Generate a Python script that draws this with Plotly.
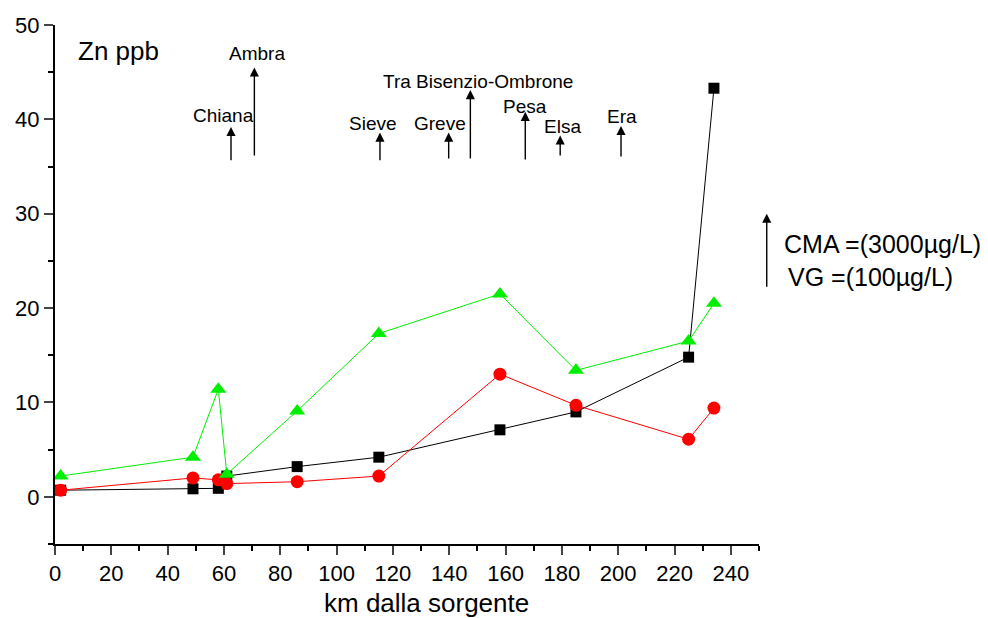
import plotly.graph_objects as go

# ---- data ----
km = [2, 49, 58, 61, 86, 115, 158, 185, 225, 234]
zn_black = [0.7, 0.85, 0.9, 2.2, 3.2, 4.2, 7.1, 9.0, 14.8, 43.3]
zn_red = [0.7, 2.0, 1.8, 1.4, 1.6, 2.2, 13.0, 9.7, 6.1, 9.4]
zn_green = [2.2, 4.2, 11.4, 2.4, 9.1, 17.3, 21.5, 13.4, 16.5, 20.5]

rivers = ["Chiana", "Ambra", "Sieve", "Greve", "Tra Bisenzio-Ombrone", "Pesa", "Elsa", "Era"]
river_km = [62.5, 70.8, 115.4, 139.8, 147.5, 167.0, 179.4, 201.0]

x_ticks = [0, 20, 40, 60, 80, 100, 120, 140, 160, 180, 200, 220, 240]
y_ticks = [0, 10, 20, 30, 40, 50]

FONT = "Arial, Liberation Sans, sans-serif"

fig = go.Figure()
fig.add_trace(go.Scatter(x=km, y=zn_black, mode="lines+markers",
                         line=dict(color="black", width=1),
                         marker=dict(symbol="square", size=11, color="black"),
                         cliponaxis=False, showlegend=False))
fig.add_trace(go.Scatter(x=km, y=zn_red, mode="lines+markers",
                         line=dict(color="red", width=1),
                         marker=dict(symbol="circle", size=13, color="red"),
                         cliponaxis=False, showlegend=False))
fig.add_trace(go.Scatter(x=km, y=zn_green, mode="lines+markers",
                         line=dict(color="#00ee00", width=1),
                         marker=dict(symbol="triangle-up", size=14, color="#00ee00"),
                         cliponaxis=False, showlegend=False))

# river arrows (tail y, tip y) and label positions
arrow_tail = [35.5, 36.0, 35.5, 35.7, 35.7, 35.6, 36.0, 35.9]
arrow_tip = [39.2, 45.5, 38.6, 38.6, 43.1, 40.8, 38.3, 39.3]
label_x = [59.8, 71.8, 113.0, 136.6, 150.2, 167.0, 180.2, 201.2]
label_y = [40.4, 47.0, 39.6, 39.6, 44.0, 41.4, 39.2, 40.3]

annotations = []
for name, xk, t0, t1, lx, ly in zip(rivers, river_km, arrow_tail, arrow_tip, label_x, label_y):
    annotations.append(dict(x=xk, y=t1, ax=xk, ay=t0, xref="x", yref="y", axref="x", ayref="y",
                            text="", showarrow=True, arrowhead=2, arrowsize=1.3, arrowwidth=1.4,
                            arrowcolor="black"))
    annotations.append(dict(x=lx, y=ly, xref="x", yref="y", text=name, showarrow=False,
                            font=dict(family=FONT, size=19, color="black")))

annotations.append(dict(x=22.4, y=47.2, xref="x", yref="y", text="Zn ppb", showarrow=False,
                        font=dict(family=FONT, size=26, color="black")))
# CMA / VG legend arrow
annotations.append(dict(x=1.011, y=30.0, xref="paper", yref="y", ax=0, ay=22.1,
                        axref="pixel", ayref="y", text="", showarrow=True, arrowhead=2,
                        arrowsize=1.3, arrowwidth=1.4, arrowcolor="black"))
annotations.append(dict(x=1.032, y=26.8, xref="paper", yref="y", xanchor="left",
                        text="CMA =(3000\u00b5g/L)", showarrow=False,
                        font=dict(family=FONT, size=25, color="black")))
annotations.append(dict(x=1.038, y=23.3, xref="paper", yref="y", xanchor="left",
                        text="VG =(100\u00b5g/L)", showarrow=False,
                        font=dict(family=FONT, size=25, color="black")))
annotations.append(dict(x=0.527, y=-0.114, xref="paper", yref="paper", yanchor="middle",
                        text="km dalla sorgente", showarrow=False,
                        font=dict(family=FONT, size=26, color="black")))
fig.update_layout(annotations=annotations)

fig.update_xaxes(range=[0, 250], tickvals=x_ticks, ticks="outside", ticklen=9, tickwidth=2,
                 showline=True, linewidth=2, linecolor="black", showgrid=False, zeroline=False,
                 tickfont=dict(family=FONT, size=22, color="black"),
                 minor=dict(dtick=10, tick0=0, ticks="outside", ticklen=5, tickwidth=2, tickcolor="black"))
fig.update_yaxes(range=[-5, 50], tickvals=y_ticks, ticks="outside", ticklen=9, tickwidth=2,
                 showline=True, linewidth=2, linecolor="black", showgrid=False, zeroline=False,
                 tickfont=dict(family=FONT, size=22, color="black"),
                 minor=dict(dtick=5, tick0=0, ticks="outside", ticklen=5, tickwidth=2, tickcolor="black"))

fig.update_layout(width=988, height=618, autosize=False,
                  margin=dict(l=55, r=229, t=25, b=74),
                  plot_bgcolor="white", paper_bgcolor="white")

fig.write_html("out.html", config={"displayModeBar": False},
               post_script="document.body.style.margin='0';")
